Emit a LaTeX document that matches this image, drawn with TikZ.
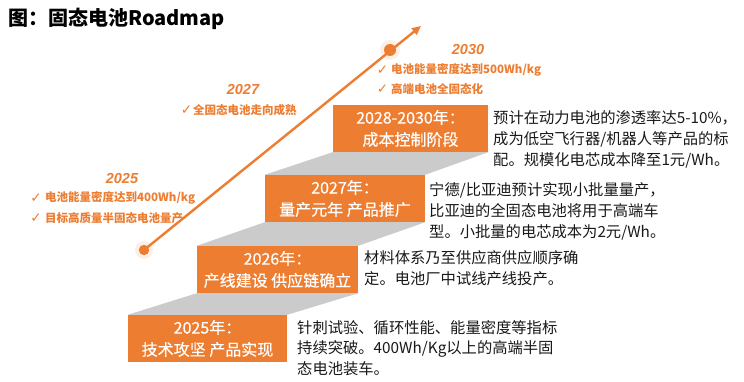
\documentclass[tikz,border=0pt]{standalone}
\usepackage{fontspec}
\setmainfont{Noto Sans CJK SC}
\newfontfamily\cjkmed{Noto Sans CJK SC}[FakeBold=0.5]
\newfontfamily\yearfont{Liberation Sans}
\newfontfamily\symfont{DejaVu Sans}
\usetikzlibrary{arrows.meta}
\definecolor{org}{HTML}{ED7D31}
\definecolor{stepgray}{HTML}{CBCBCB}
\tikzset{
  stepbox/.style={fill=org, text=white, inner sep=0, minimum height=47pt, align=center,
    font=\cjkmed\fontsize{16}{22}\selectfont},
  desc/.style={anchor=west, inner sep=0, align=left, text=black!90,
    font=\fontsize{15.3}{20.8}\selectfont},
  yearlbl/.style={inner sep=0, text=org, font=\yearfont\bfseries\itshape\fontsize{14.5}{14.5}\selectfont},
  chk/.style={inner sep=0, text=org, font=\symfont\fontsize{13.5}{13.5}\selectfont},
  item/.style={anchor=west, inner sep=0, text=org, font=\bfseries\fontsize{11.5}{11.5}\selectfont},
  tread/.style={fill=stepgray, draw=none},
}
\begin{document}
\begin{tikzpicture}[x=1pt,y=-1pt]
\useasboundingbox (0,0) rectangle (744,382);
\fill[white] (0,0) rectangle (744,382);

% title
\node[anchor=west, inner sep=0, font=\bfseries\fontsize{20}{20}\selectfont] (title) at (8,18.5) {图：固态电池Roadmap};

% box outlines (for geometry)
\coordinate (b25c) at (207.5,338.5);
\coordinate (b26c) at (277.5,269.5);
\coordinate (b27c) at (345,198.5);
\coordinate (b28c) at (410.5,128.5);
\path (b25c) node[minimum width=159pt, minimum height=47pt, inner sep=0] (g25) {};
\path (b26c) node[minimum width=161pt, minimum height=47pt, inner sep=0] (g26) {};
\path (b27c) node[minimum width=160pt, minimum height=47pt, inner sep=0] (g27) {};
\path (b28c) node[minimum width=155pt, minimum height=47pt, inner sep=0] (g28) {};

% gray treads
\fill[tread] (g25.north west) -- (g26.south west) -- (g26.south east) -- (g25.north east) -- cycle;
\fill[tread] (g26.north west) -- (g27.south west) -- (g27.south east) -- (g26.north east) -- cycle;
\fill[tread] (g27.north west) -- (g28.south west) -- (g28.south east) -- (g27.north east) -- cycle;

% boxes
\node[stepbox, minimum width=159pt] (b25) at (b25c) {2025年：\\技术攻坚 产品实现};
\node[stepbox, minimum width=161pt] (b26) at (b26c) {2026年：\\产线建设 供应链确立};
\node[stepbox, minimum width=160pt] (b27) at (b27c) {2027年：\\量产元年 产品推广};
\node[stepbox, minimum width=155pt] (b28) at (b28c) {2028-2030年：\\成本控制阶段};

% descriptions
\node[desc] (t28) at (493,139.5) {预计在动力电池的渗透率达5-10\%，\\成为低空飞行器/机器人等产品的标\\配。规模化电芯成本降至1元/Wh。};
\node[desc] (t27) at (429,211.5) {宁德/比亚迪预计实现小批量量产，\\比亚迪的全固态电池将用于高端车\\型。小批量的电芯成本为2元/Wh。};
\node[desc] (t26) at (364,268) {材料体系乃至供应商供应顺序确\\定。电池厂中试线产线投产。};
\node[desc] (t25) at (297,348) {针刺试验、循环性能、能量密度等指标\\持续突破。400Wh/Kg以上的高端半固\\态电池装车。};

% roadmap line
\coordinate (d25) at (144,250);
\coordinate (d30) at (390,50);
\coordinate (tip) at (421,26);
\fill[org, opacity=0.12] (d25) circle (9pt);
\fill[org, opacity=0.12] (d30) circle (10pt);
\draw[org, line width=2.4pt, -{Triangle[length=9pt,width=8pt]}] (d25) -- (tip);
\fill[org] (d25) circle (5.2pt);
\fill[org] (d30) circle (6pt);

% 2025 milestone
\node[yearlbl] (y25) at (122,179) {2025};
\node[chk] (c25a) at (36,198) {✓};
\node[item] (i25a) at (45,198) {电池能量密度达到400Wh/kg};
\node[chk] (c25b) at (36,218) {✓};
\node[item] (i25b) at (45,218) {目标高质量半固态电池量产};

% 2027 milestone
\node[yearlbl] (y27) at (243,90) {2027};
\node[chk] (c27) at (186.5,110) {✓};
\node[item] (i27) at (193,110) {全固态电池走向成熟};

% 2030 milestone
\node[yearlbl] (y30) at (468,50) {2030};
\node[chk] (c30a) at (382.5,70) {✓};
\node[item] (i30a) at (391,70) {电池能量密度达到500Wh/kg};
\node[chk] (c30b) at (382.5,89) {✓};
\node[item] (i30b) at (391,89) {高端电池全固态化};
\end{tikzpicture}
\end{document}
